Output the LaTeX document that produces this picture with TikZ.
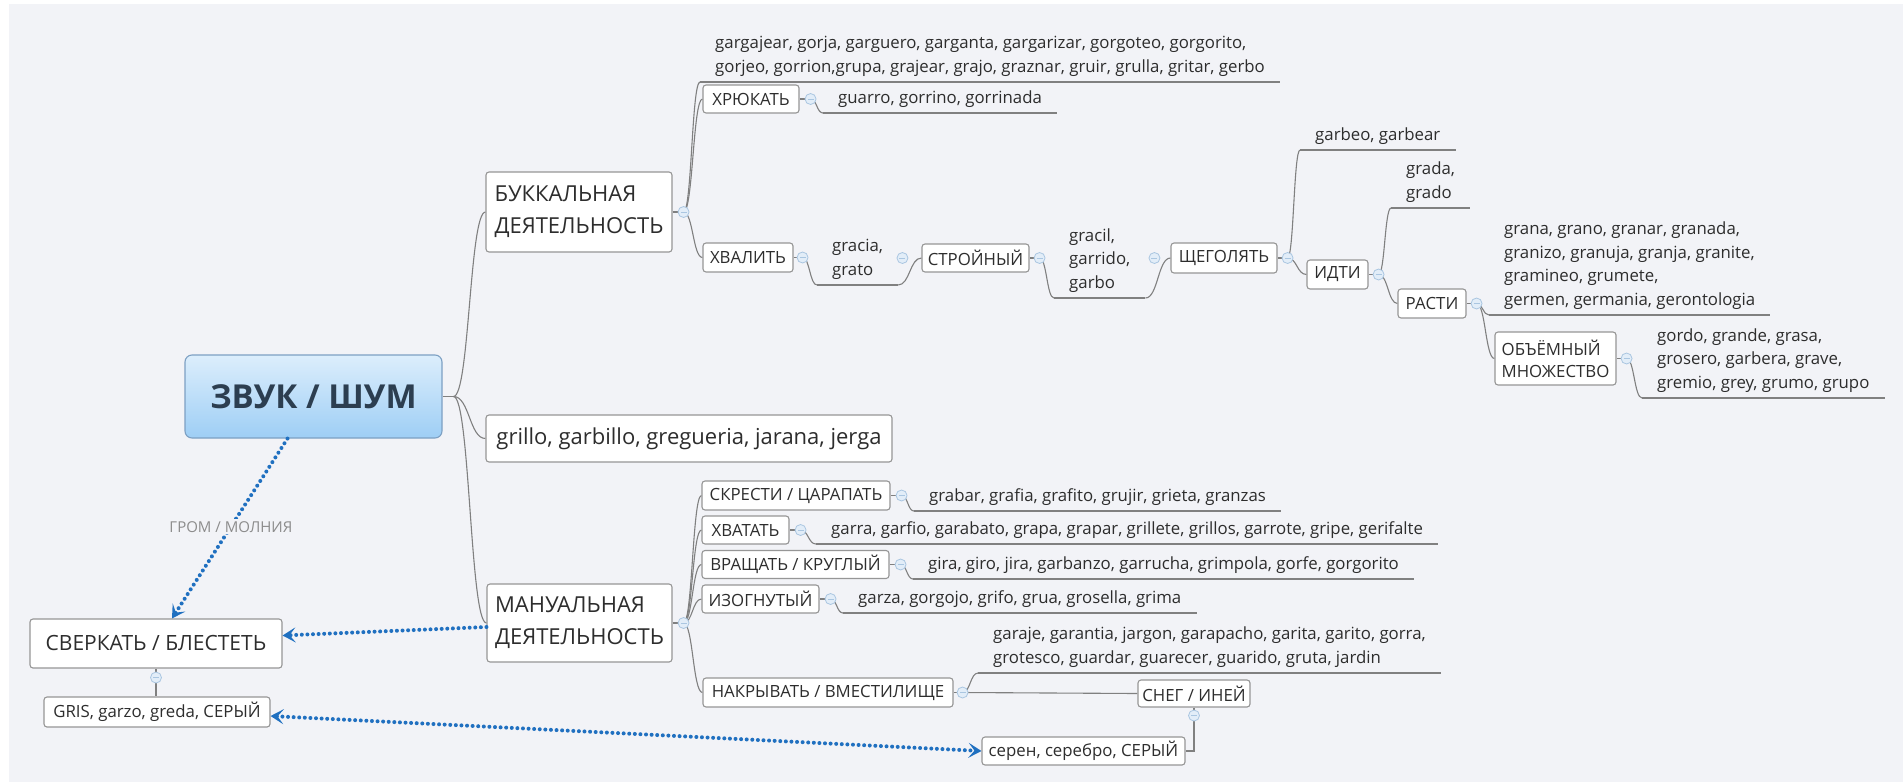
\documentclass[tikz,border=0pt]{standalone}
\usepackage{fontspec}
\setmainfont{Open Sans}
\usetikzlibrary{calc,arrows.meta}

\definecolor{bgc}{RGB}{242,243,247}
\definecolor{linec}{RGB}{128,128,128}
\definecolor{boxc}{RGB}{150,150,150}
\definecolor{txt}{RGB}{45,45,45}
\definecolor{roottxt}{RGB}{44,62,80}
\definecolor{rootdraw}{RGB}{125,160,195}
\definecolor{roottop}{RGB}{220,238,252}
\definecolor{rootbot}{RGB}{158,206,245}
\definecolor{relc}{RGB}{32,112,192}
\definecolor{lblc}{RGB}{140,140,140}
\definecolor{collc}{RGB}{170,198,225}
\definecolor{collf}{RGB}{226,237,248}

\pgfdeclarelayer{paper}
\pgfdeclarelayer{wires}
\pgfsetlayers{paper,wires,main}

% XMind-like curved link: leaves horizontally, runs vertically, enters horizontally
\newcommand\curvelink[2]{\draw[link] (#1) .. controls ($(#1)!0.5!(#2 |- #1)$) and ($(#1 |- #2)!0.5!(#2)$) .. (#2);}

\tikzset{
  box/.style={draw=boxc, fill=white, rounded corners=3pt, line width=1.1pt, text=txt,
    inner sep=0pt, align=left, font=\fontsize{16.8}{22}\selectfont},
  bigbox/.style={box, font=\fontsize{22}{32}\selectfont},
  rootbox/.style={draw=rootdraw, rounded corners=7pt, line width=1.1pt, top color=roottop,
    bottom color=rootbot, text=roottxt, inner sep=0pt, font=\fontsize{33}{40}\selectfont\bfseries},
  leaf/.style={anchor=south west, inner xsep=15pt, inner ysep=5pt, align=left, text=txt,
    font=\fontsize{16.8}{23.8}\selectfont},
  coll/.style={circle, draw=collc, fill=collf, minimum size=11pt, inner sep=0pt, line width=0.8pt,
    path picture={\draw[collc, line width=1pt] ([xshift=-3pt]path picture bounding box.center)
      -- ([xshift=3pt]path picture bounding box.center);}},
  link/.style={draw=linec, line width=1.1pt},
  rel/.style={draw=relc, line width=4pt, line cap=round, dash pattern=on 0pt off 5.6pt},
  spear/.tip={Stealth[length=13pt, width=15pt, inset=6pt]},
  lbl/.style={fill=bgc, text=lblc, inner sep=2pt, font=\fontsize{15}{18}\selectfont},
}

\begin{document}
\begin{tikzpicture}[x=1pt,y=-1pt]
\useasboundingbox (0,0) rectangle (1903,782);
\begin{pgfonlayer}{paper}
  \fill[white] (0,0) rectangle (1903,782);
  \fill[bgc] (9,4) rectangle (1903,782);
\end{pgfonlayer}

% ---- central topic and main branches
\node[rootbox, minimum width=257pt, minimum height=83pt] (root) at (313.5,396.5) {ЗВУК / ШУМ};
\coordinate (rj) at ($(root.east)+(11,0)$);
\node[bigbox, minimum width=186pt, minimum height=80pt] (buk) at (579,212) {БУККАЛЬНАЯ\\ДЕЯТЕЛЬНОСТЬ};
\node[bigbox, minimum width=406pt, minimum height=47pt, align=center] (grillo) at (689,438.5) {grillo, garbillo, gregueria, jarana, jerga};
\node[bigbox, minimum width=185pt, minimum height=78pt] (man) at (579.5,623) {МАНУАЛЬНАЯ\\ДЕЯТЕЛЬНОСТЬ};

% ---- left side
\node[bigbox, minimum width=252pt, minimum height=49pt, align=center, font=\fontsize{21}{26}\selectfont] (sverk) at (156,643.5) {СВЕРКАТЬ / БЛЕСТЕТЬ};
\node[box, minimum width=226pt, minimum height=30pt, align=center] (gris) at (157,712) {GRIS, garzo, greda, СЕРЫЙ};
\node[coll] (csverk) at ($(sverk.south)+(0,9)$) {};

% ---- buccal branch
\node[coll] (cbuk) at ($(buk.east)+(11,0)$) {};
\node[leaf] (garg) at (700,82) {gargajear, gorja, garguero, garganta, gargarizar, gorgoteo, gorgorito,\\gorjeo, gorrion,grupa, grajear, grajo, graznar, gruir, grulla, gritar, gerbo};
\node[box, minimum width=96pt, minimum height=28pt, align=center] (hryu) at (751,99) {ХРЮКАТЬ};
\node[coll] (chryu) at ($(hryu.east)+(11,0)$) {};
\node[leaf] (guarro) at (823,113) {guarro, gorrino, gorrinada};
\node[box, minimum width=90pt, minimum height=29pt, align=center] (hval) at (748,257.5) {ХВАЛИТЬ};
\node[coll] (chval) at ($(hval.east)+(9,0)$) {};
\node[leaf] (gracia) at (817,285) {gracia,\\grato};
\node[box, minimum width=107pt, minimum height=28pt, align=center] (stroy) at (975.5,258) {СТРОЙНЫЙ};
\node[coll] (cgracia) at ($(stroy.west)+(-19,0)$) {};
\node[coll] (cstroy) at ($(stroy.east)+(10,0)$) {};
\node[leaf] (gracil) at (1054,298) {gracil,\\garrido,\\garbo};
\node[box, minimum width=106pt, minimum height=30pt, align=center] (shch) at (1224,258) {ЩЕГОЛЯТЬ};
\node[coll] (cgracil) at ($(shch.west)+(-16,0)$) {};
\node[coll] (cshch) at ($(shch.east)+(10,0)$) {};
\node[leaf] (garbeo) at (1300,150) {garbeo, garbear};
\node[box, minimum width=61pt, minimum height=29pt, align=center] (idti) at (1337.5,274.5) {ИДТИ};
\node[coll] (cidti) at ($(idti.east)+(10,0)$) {};
\node[leaf] (grada) at (1391,208) {grada,\\grado};
\node[box, minimum width=68pt, minimum height=29pt, align=center] (rasti) at (1432,303.5) {РАСТИ};
\node[coll] (crasti) at ($(rasti.east)+(10,0)$) {};
\node[leaf] (grana) at (1489,315) {grana, grano, granar, granada,\\granizo, granuja, granja, granite,\\gramineo, grumete,\\germen, germania, gerontologia};
\node[box, minimum width=121pt, minimum height=53pt] (obem) at (1555.5,358.5) {ОБЪЁМНЫЙ\\МНОЖЕСТВО};
\node[coll] (cobem) at ($(obem.east)+(10,0)$) {};
\node[leaf] (gordo) at (1642,398) {gordo, grande, grasa,\\grosero, garbera, grave,\\gremio, grey, grumo, grupo};

% ---- manual branch
\node[coll] (cman) at ($(man.east)+(11,0)$) {};
\node[box, minimum width=188pt, minimum height=29pt, align=center] (skr) at (796,495.5) {СКРЕСТИ / ЦАРАПАТЬ};
\node[coll] (cskr) at ($(skr.east)+(11,0)$) {};
\node[leaf] (grabar) at (914,511) {grabar, grafia, grafito, grujir, grieta, granzas};
\node[box, minimum width=87pt, minimum height=28pt, align=center] (hvat) at (745.5,530) {ХВАТАТЬ};
\node[coll] (chvat) at ($(hvat.east)+(11,0)$) {};
\node[leaf] (garra) at (816,544) {garra, garfio, garabato, grapa, grapar, grillete, grillos, garrote, gripe, gerifalte};
\node[box, minimum width=187pt, minimum height=28pt, align=center] (vrash) at (795.5,564.5) {ВРАЩАТЬ / КРУГЛЫЙ};
\node[coll] (cvrash) at ($(vrash.east)+(11,0)$) {};
\node[leaf] (gira) at (913,579) {gira, giro, jira, garbanzo, garrucha, grimpola, gorfe, gorgorito};
\node[box, minimum width=117pt, minimum height=28pt, align=center] (izog) at (760.5,599) {ИЗОГНУТЫЙ};
\node[coll] (cizog) at ($(izog.east)+(11,0)$) {};
\node[leaf] (garza) at (843,613) {garza, gorgojo, grifo, grua, grosella, grima};
\node[box, minimum width=250pt, minimum height=29pt, align=center] (nakr) at (828,692.5) {НАКРЫВАТЬ / ВМЕСТИЛИЩЕ};
\node[coll] (cnakr) at ($(nakr.east)+(9,0)$) {};
\node[leaf] (garaje) at (978,673) {garaje, garantia, jargon, garapacho, garita, garito, gorra,\\grotesco, guardar, guarecer, guarido, gruta, jardin};
\node[box, minimum width=112pt, minimum height=27pt, align=center] (sneg) at (1194,693.5) {СНЕГ / ИНЕЙ};
\node[coll] (csneg) at ($(sneg.south)+(0,8)$) {};
\node[box, minimum width=203pt, minimum height=28pt, align=center] (seren) at (1083.5,751) {серен, серебро, СЕРЫЙ};

% ---- tree links
\begin{pgfonlayer}{wires}
  \draw[link] (root.east) -- (rj);
  \curvelink{rj}{buk.west}
  \curvelink{rj}{grillo.west}
  \curvelink{rj}{man.west}

  \draw[link] (buk.east) -- (cbuk.center);
  \curvelink{cbuk.center}{garg.south west}
  \curvelink{cbuk.center}{hryu.west}
  \curvelink{cbuk.center}{hval.west}
  \draw[link] (hryu.east) -- (chryu.center);
  \curvelink{chryu.center}{guarro.south west}
  \draw[link] (hval.east) -- (chval.center);
  \curvelink{chval.center}{gracia.south west}
  \curvelink{gracia.south east}{stroy.west}
  \draw[link] (stroy.east) -- (cstroy.center);
  \curvelink{cstroy.center}{gracil.south west}
  \curvelink{gracil.south east}{shch.west}
  \draw[link] (shch.east) -- (cshch.center);
  \curvelink{cshch.center}{garbeo.south west}
  \curvelink{cshch.center}{idti.west}
  \draw[link] (idti.east) -- (cidti.center);
  \curvelink{cidti.center}{grada.south west}
  \curvelink{cidti.center}{rasti.west}
  \draw[link] (rasti.east) -- (crasti.center);
  \curvelink{crasti.center}{grana.south west}
  \curvelink{crasti.center}{obem.west}
  \draw[link] (obem.east) -- (cobem.center);
  \curvelink{cobem.center}{gordo.south west}

  \draw[link] (man.east) -- (cman.center);
  \curvelink{cman.center}{skr.west}
  \curvelink{cman.center}{hvat.west}
  \curvelink{cman.center}{vrash.west}
  \curvelink{cman.center}{izog.west}
  \curvelink{cman.center}{nakr.west}
  \draw[link] (skr.east) -- (cskr.center);
  \curvelink{cskr.center}{grabar.south west}
  \draw[link] (hvat.east) -- (chvat.center);
  \curvelink{chvat.center}{garra.south west}
  \draw[link] (vrash.east) -- (cvrash.center);
  \curvelink{cvrash.center}{gira.south west}
  \draw[link] (izog.east) -- (cizog.center);
  \curvelink{cizog.center}{garza.south west}
  \draw[link] (nakr.east) -- (cnakr.center);
  \curvelink{cnakr.center}{garaje.south west}
  \curvelink{cnakr.center}{sneg.west}
  \draw[link] (sneg.south) -- (csneg.center);
  \draw[link] (csneg.center) |- (seren.east);

  \draw[link] (sverk.south) -- (csverk.center) -- (csverk.center |- gris.north);

  % underlines of the plain text topics
  \foreach \n in {garg,guarro,gracia,gracil,garbeo,grada,grana,gordo,grabar,garra,gira,garza,garaje}
    \draw[link] (\n.south west) -- (\n.south east);
\end{pgfonlayer}

% ---- dotted relationships
\draw[rel, -{spear}] ($(root.south)+(-26,0)$) -- ($(sverk.north)+(16,0)$)
  node[lbl, pos=0.49] (grom) {ГРОМ / МОЛНИЯ};
\draw[rel, -{spear}] ($(man.west)+(0,4)$) -- ($(sverk.east)+(0,-8)$);
\draw[rel, {spear}-{spear}] ($(gris.east)+(0,4)$) -- (seren.west);
\end{tikzpicture}
\end{document}
